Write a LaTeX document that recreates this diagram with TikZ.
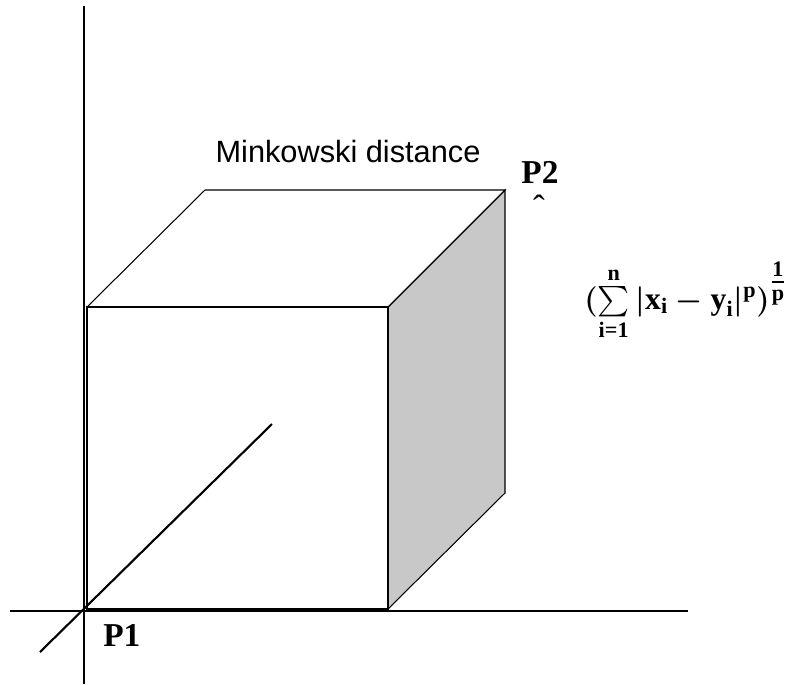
\documentclass[tikz,border=0pt]{standalone}
\usepackage{amsmath}
\usepackage{fontspec}
\setmainfont{Liberation Serif}
\setsansfont{Liberation Sans}
\usetikzlibrary{positioning}
\definecolor{Shade}{HTML}{C8C8C8}
\newcommand{\bl}[1]{\text{\bfseries #1}}
\newsavebox{\minkbox}
\tikzset{axis/.style={draw=black,line width=1.2pt},edge/.style={draw=black,line width=0.6pt},face/.style={fill=Shade,draw=black,line width=0.6pt},corner/.style={font=\bfseries\fontsize{19}{22}\selectfont,inner sep=0pt},caption/.style={font=\sffamily\fontsize{17.5}{20}\selectfont,inner sep=0pt},formula/.style={inner sep=0pt}}

\begin{document}
\sbox{\minkbox}{\fontsize{18}{22}\selectfont\boldmath$(\sum\limits_{\bl{i=1}}^{\bl{n}}\,\lvert\bl{x}_{\bl{i}}-\bl{y}_{\bl{i}}\rvert^{\bl{p}})^{\textstyle\frac{\bl{1}}{\bl{p}}}$}%
\begin{tikzpicture}[x=0.02cm,y=-0.02cm]
\useasboundingbox (0,0) rectangle (795,684);
% axes
\coordinate (yTop) at (84,6);\coordinate (yBot) at (84,684);
\coordinate (xLeft) at (10,611);\coordinate (xRight) at (688,611);
\coordinate (zBack) at (272,424);\coordinate (zFront) at (40,652);
\draw[axis] (yTop)--(yBot);\draw[axis] (xLeft)--(xRight);
% cube corners
\coordinate (A) at (87,609);\coordinate (B) at (388,609);\coordinate (C) at (388,307);\coordinate (D) at (87,307);
\coordinate (E) at (205,190);\coordinate (F) at (505,190);\coordinate (G) at (505,493);
\draw[face] (B)--(G)--(F)--(C)--cycle;
\draw[edge] (A)--(B)--(C)--(D)--cycle;
\draw[edge] (D)--(E)--(F)--(C);
\draw[axis] (zFront)--(zBack);
% labels
\node[caption,anchor=base] (title) at (348,162) {Minkowski distance};
\node[corner,anchor=base west] (P2) at (521,183) {P2};
\node[formula,anchor=base,font=\fontsize{20}{24}\selectfont] (hat) at (539,219) {ˆ};
\node[corner,anchor=base west] (P1) at (103,646) {P1};
\node[formula,anchor=base west] (mink) at (584,309) {\usebox{\minkbox}};
\end{tikzpicture}
\end{document}
